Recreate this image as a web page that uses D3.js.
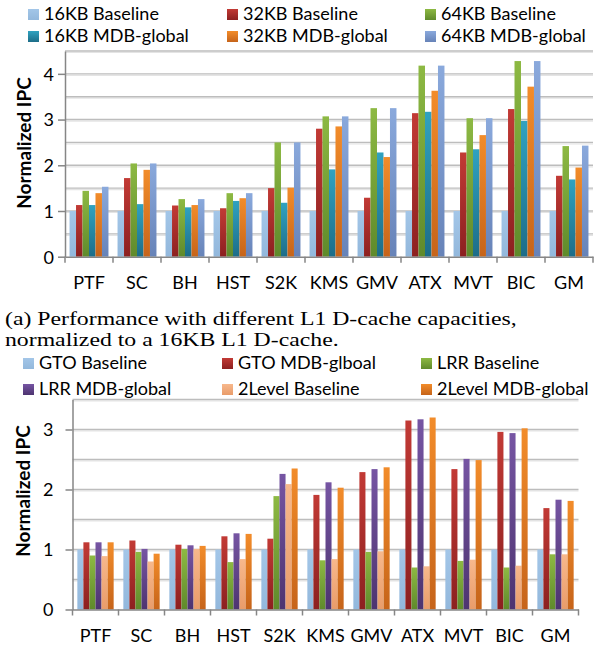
<!DOCTYPE html>
<html lang="en">
<head>
<meta charset="UTF-8">
<title>mdb</title>
<script src="https://d3js.org/d3.v7.min.js"></script>
<style>
    body { margin: 0; background: #fff; }
    .axis path, .axis line { fill: none; stroke: #868686; stroke-width: 1.5; }
    .axis text { font-family: Lato, sans-serif; font-size: 18px; fill: #000; }
    .legend text { font-family: Lato, sans-serif; font-size: 18px; fill: #000; }
    .ytitle { font-family: Lato, sans-serif; font-size: 19px; font-weight: bold; }
    .caption { font-family: "Liberation Serif", serif; font-size: 19px; }
</style>
</head>
<body>
<script>
    const benchmarks = ['PTF', 'SC', 'BH', 'HST', 'S2K', 'KMS', 'GMV', 'ATX', 'MVT', 'BIC', 'GM']

    // (a) L1 D-cache capacity
    const capSeries = ['16KB Baseline', '32KB Baseline', '64KB Baseline', '16KB MDB-global', '32KB MDB-global', '64KB MDB-global']
    const cap16Base = [1, 1, 1, 1, 1, 1, 1, 1, 1, 1, 1]
    const cap32Base = [1.13, 1.72, 1.12, 1.06, 1.50, 2.80, 1.29, 3.14, 2.28, 3.23, 1.77]
    const cap64Base = [1.44, 2.04, 1.26, 1.39, 2.50, 3.07, 3.25, 4.18, 3.03, 4.28, 2.42]
    const cap16Mdb = [1.13, 1.15, 1.08, 1.22, 1.18, 1.91, 2.28, 3.17, 2.35, 2.97, 1.69]
    const cap32Mdb = [1.39, 1.90, 1.13, 1.28, 1.51, 2.85, 2.18, 3.63, 2.66, 3.72, 1.95]
    const cap64Mdb = [1.53, 2.04, 1.26, 1.39, 2.50, 3.07, 3.25, 4.18, 3.03, 4.28, 2.43]
    const capTicks = [0, 1, 2, 3, 4]

    // (b) warp schedulers
    const schedSeries = ['GTO Baseline', 'GTO MDB-glboal', 'LRR Baseline', 'LRR MDB-global', '2Level Baseline', '2Level MDB-global']
    const gtoBase = [1, 1, 1, 1, 1, 1, 1, 1, 1, 1, 1]
    const gtoMdb = [1.12, 1.15, 1.08, 1.22, 1.18, 1.91, 2.29, 3.15, 2.34, 2.96, 1.69]
    const lrrBase = [0.90, 0.96, 1.01, 0.79, 1.89, 0.82, 0.96, 0.70, 0.81, 0.70, 0.92]
    const lrrMdb = [1.12, 1.01, 1.07, 1.27, 2.26, 2.12, 2.34, 3.17, 2.51, 2.94, 1.83]
    const twoLevelBase = [0.89, 0.80, 1.01, 0.84, 2.09, 0.84, 0.97, 0.72, 0.83, 0.73, 0.92]
    const twoLevelMdb = [1.12, 0.93, 1.06, 1.26, 2.35, 2.03, 2.37, 3.20, 2.49, 3.02, 1.81]
    const schedTicks = [0, 1, 2, 3]

    const width = 598
    const height = 649

    // [top, bottom] colour of each bar gradient
    const capColors = [['#a3c6e8', '#93b8dc'], ['#c23a35', '#8c2020'], ['#8db943', '#5f8a2b'],
        ['#30a2c0', '#1d6d88'], ['#f28c2a', '#c6641a'], ['#8aa9dc', '#6783b8']]
    const schedColors = [['#a3c6e8', '#93b8dc'], ['#c23a35', '#8c2020'], ['#8db943', '#5f8a2b'],
        ['#7655a3', '#4d3470'], ['#f7b88c', '#e99c6a'], ['#f28c2a', '#c6641a']]

    const svg = d3.select("body").append("svg")
        .attr("width", width)
        .attr("height", height)
    const defs = svg.append("defs")

    function drawChart(opt) {
        const g = svg.append("g")
        const x = d3.scaleBand().domain(benchmarks).range([opt.left, opt.right])
        const xs = d3.scaleBand().domain(d3.range(opt.series.length))
            .range([0, x.bandwidth()]).paddingOuter(opt.barPad)
        const y = d3.scaleLinear().domain([0, opt.max]).range([opt.bottom, opt.top])

        // gridlines every 0.5
        const grid = d3.range(0.5, opt.max + 0.01, 0.5)
        g.selectAll(".gs").data(grid).enter().append("line")
            .attr("x1", opt.left).attr("x2", opt.right)
            .attr("y1", d => y(d) + 1.5).attr("y2", d => y(d) + 1.5)
            .attr("stroke", "#e4e4e4").attr("stroke-width", 1.2)
        g.selectAll(".gl").data(grid).enter().append("line")
            .attr("x1", opt.left).attr("x2", opt.right)
            .attr("y1", d => y(d)).attr("y2", d => y(d))
            .attr("stroke", "#bdbdbd").attr("stroke-width", 1.4)

        // bars
        opt.series.forEach(function (name, i) {
            const id = opt.id + "g" + i
            const lg = defs.append("linearGradient").attr("id", id)
                .attr("x1", 0).attr("y1", 0).attr("x2", 0).attr("y2", 1)
            lg.append("stop").attr("offset", "0%").attr("stop-color", opt.colors[i][0])
            lg.append("stop").attr("offset", "100%").attr("stop-color", opt.colors[i][1])
            g.append("g").attr("fill", "url(#" + id + ")")
                .selectAll("rect")
                .data(opt.values[i])
                .enter()
                .append("rect")
                .attr("x", (d, j) => x(benchmarks[j]) + xs(i))
                .attr("width", xs.bandwidth())
                .attr("y", d => y(d))
                .attr("height", d => y(0) - y(d))
        })

        // y axis
        g.append("g")
            .attr("class", "axis")
            .attr("transform", "translate(" + opt.left + ",0)")
            .call(d3.axisLeft(y).tickValues(opt.ticks).tickFormat(d3.format("d"))
                .tickSize(opt.yTick).tickSizeOuter(0).tickPadding(opt.yPad))
            .selectAll("text").attr("dy", "0.35em")

        // x axis, ticks on category boundaries
        const xa = g.append("g")
            .attr("class", "axis")
            .attr("transform", "translate(0," + opt.bottom + ")")
            .call(d3.axisBottom(x).tickSize(0).tickSizeOuter(0).tickPadding(opt.xPad))
        xa.selectAll("text").attr("dy", "0.71em")
        const bounds = benchmarks.map(d => x(d)).concat([opt.right])
        xa.selectAll(".bt").data(bounds).enter().append("line")
            .attr("x1", d => d).attr("x2", d => d)
            .attr("y1", 0).attr("y2", 6)

        // axis title
        g.append("text")
            .attr("class", "ytitle")
            .attr("text-anchor", "middle")
            .attr("transform", "translate(" + opt.titleX + "," + opt.titleY + ") rotate(-90)")
            .text("Normalized IPC")

        // legend, 3 per row
        const lgd = g.append("g").attr("class", "legend")
        opt.series.forEach(function (name, i) {
            const col = i % 3
            const row = Math.floor(i / 3)
            const lx = opt.legX[col]
            const ly = opt.legY[row]
            lgd.append("rect")
                .attr("x", lx).attr("y", ly - 11)
                .attr("width", 11).attr("height", 11)
                .attr("fill", "url(#" + opt.id + "g" + i + ")")
            lgd.append("text")
                .attr("x", lx + 16).attr("y", ly)
                .text(name)
        })
    }

    drawChart({
        id: "cap",
        series: capSeries,
        values: [cap16Base, cap32Base, cap64Base, cap16Mdb, cap32Mdb, cap64Mdb],
        colors: capColors,
        ticks: capTicks,
        max: 4.5,
        left: 65, right: 593, top: 51, bottom: 256.7,
        barPad: 0.7,
        yTick: 7, yPad: 4, xPad: 20,
        titleX: 31, titleY: 143,
        legX: [28, 227, 425],
        legY: [20, 42]
    })

    drawChart({
        id: "sch",
        series: schedSeries,
        values: [gtoBase, gtoMdb, lrrBase, lrrMdb, twoLevelBase, twoLevelMdb],
        colors: schedColors,
        ticks: schedTicks,
        max: 3.5,
        left: 72.5, right: 578.5, top: 399.5, bottom: 609.5,
        barPad: 0.8,
        yTick: 7, yPad: 12, xPad: 20,
        titleX: 30, titleY: 491,
        legX: [23, 222, 421],
        legY: [369, 395]
    })

    // caption between the two charts
    const cap = svg.append("g").attr("class", "caption")
    const c1 = cap.append("text").attr("x", 0).attr("y", 325)
        .text("(a) Performance with different L1 D-cache capacities,")
    cap.append("text").attr("x", 0).attr("y", 346)
        .text("normalized to a 16KB L1 D-cache.")
    const sx = 512 / c1.node().getComputedTextLength()
    cap.attr("transform", "translate(5,0) scale(" + sx + ",1)")
</script>
</body>
</html>
